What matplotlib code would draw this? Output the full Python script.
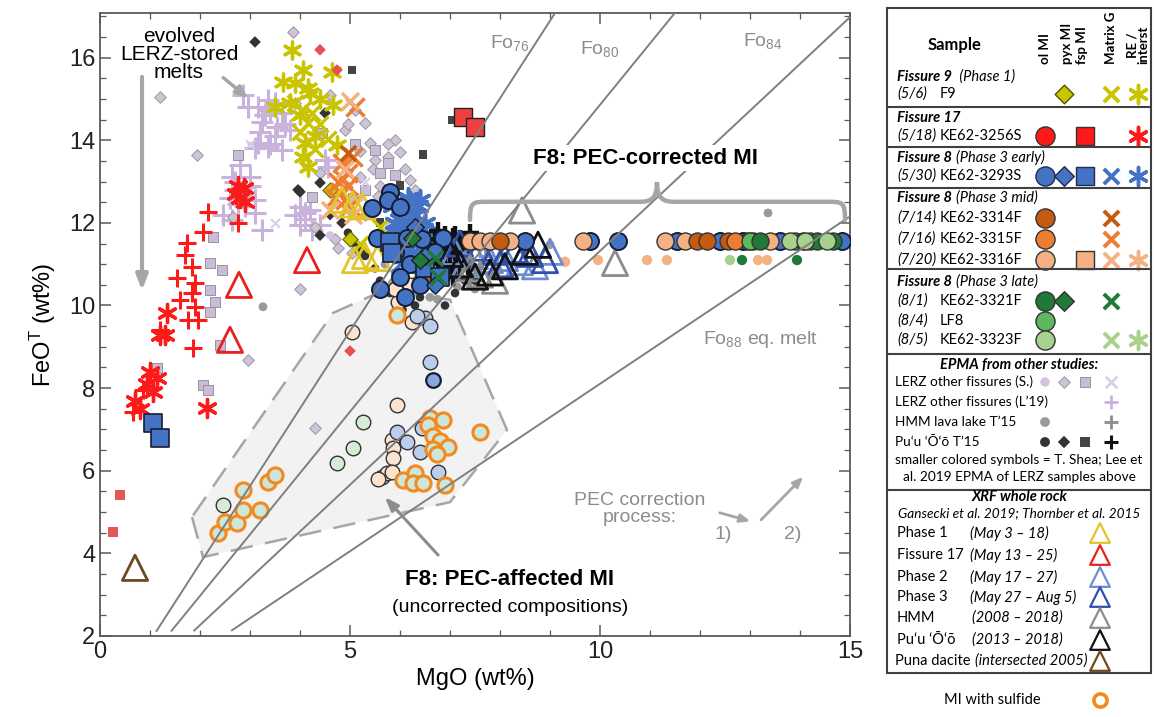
#!/usr/bin/env python3
"""
FeO(T) vs MgO for 2018 LERZ melt inclusions, matrix glasses and whole rocks
"""

import numpy as np
import matplotlib
matplotlib.use('Agg')
import matplotlib.pyplot as plt
from matplotlib.path import Path
from matplotlib.patches import Polygon, PathPatch, Rectangle

W, H = 1154, 717

# ---------------------------------------------------------------- data (MgO, FeOT)
# EPMA from other studies
lerz_l19_plus = [(3.16, 14.81), (3.36, 14.98), (3.64, 14.66), (3.54, 14.32), (3.16, 13.94),
                 (3.10, 13.82), (3.36, 13.84), (2.64, 13.11), (2.90, 12.87), (2.84, 12.63),
                 (3.10, 12.56), (3.10, 12.24), (2.70, 12.80), (4.00, 12.39), (4.10, 12.24),
                 (4.50, 13.53), (4.56, 13.36), (3.24, 14.45), (3.80, 14.25), (2.96, 14.81),
                 (4.00, 11.95), (4.24, 11.83), (2.64, 12.07), (3.24, 11.83), (2.80, 13.41),
                 (3.64, 13.77), (3.40, 14.74), (2.75, 12.45), (3.00, 13.10), (3.30, 14.60),
                 (3.50, 14.90), (3.20, 14.20), (3.70, 14.40), (2.70, 13.00), (2.90, 12.40),
                 (2.60, 12.60), (3.00, 12.90), (4.10, 12.10), (4.20, 12.30), (3.90, 12.20),
                 (3.40, 13.90), (3.50, 14.10), (2.85, 15.10), (4.40, 11.95), (2.45, 12.20)]
lerz_s_diamond = [(1.20, 15.05), (3.86, 16.62), (1.94, 13.65), (5.30, 14.42), (5.90, 14.01),
                  (6.00, 13.72), (5.40, 13.94), (5.76, 13.60), (4.30, 11.90), (4.76, 11.39),
                  (5.04, 11.27), (4.30, 7.04), (2.96, 8.68), (4.60, 15.10), (5.10, 14.74),
                  (4.90, 14.25), (5.50, 13.53), (6.20, 13.04), (5.70, 12.44), (3.90, 14.90),
                  (5.60, 12.90), (6.00, 12.60), (5.30, 12.20), (4.40, 13.20), (6.40, 11.80),
                  (6.20, 12.00), (2.66, 12.15), (4.00, 10.40), (5.20, 13.10), (5.45, 13.30),
                  (5.75, 13.90), (6.10, 13.30), (5.20, 13.75), (4.95, 14.40), (6.30, 12.80),
                  (5.00, 12.30), (4.70, 11.60), (5.80, 11.90), (5.55, 12.65)]
lerz_s_square = [(2.76, 13.65), (2.26, 11.66), (2.20, 11.03), (2.44, 10.86), (2.20, 10.38),
                 (2.30, 10.09), (2.20, 9.84), (2.40, 9.05), (2.06, 8.08), (2.16, 7.96),
                 (1.14, 8.49), (4.44, 14.18), (5.76, 13.45), (4.24, 12.63), (5.50, 13.77),
                 (5.90, 13.16), (5.30, 12.80), (5.10, 13.90), (5.60, 13.20), (5.05, 12.60)]
lerz_s_circle = [(5.50, 12.30), (5.80, 12.00), (6.10, 11.80), (4.60, 11.70), (5.20, 12.60)]
lerz_s_x = [(3.00, 13.90), (3.50, 12.00), (4.90, 12.90), (5.30, 13.00), (7.00, 10.60)]
hmm_circle = [(6.30, 11.10), (6.50, 10.90), (6.10, 10.60), (6.80, 10.50), (7.20, 10.70),
              (7.50, 10.40), (6.60, 10.20), (5.90, 10.80), (6.00, 11.30), (7.00, 11.60),
              (9.00, 11.47), (13.36, 12.24), (3.26, 9.97), (5.70, 11.00), (6.90, 10.90),
              (7.30, 11.40), (6.20, 10.35), (7.80, 11.60), (6.10, 10.40), (6.45, 10.60),
              (7.15, 10.45), (5.85, 10.55), (6.75, 10.15)]
hmm_plus = [(6.80, 10.60), (7.10, 10.80), (7.40, 10.60), (7.60, 10.90), (6.50, 10.70),
            (7.90, 10.80), (7.70, 11.20)]
puu_circle = [(4.96, 11.76), (5.10, 11.50), (5.60, 10.60), (5.80, 10.30), (6.00, 10.50),
              (6.20, 10.90), (6.40, 10.20), (6.70, 10.40), (6.90, 10.00), (7.10, 10.30),
              (5.50, 10.90), (5.90, 11.10), (6.60, 10.80), (7.30, 10.60), (5.30, 11.20),
              (6.05, 9.90), (6.30, 10.00), (7.50, 10.60)]
puu_diamond = [(3.10, 16.38), (4.50, 14.66), (4.40, 12.97), (4.00, 12.75), (4.84, 12.00),
               (3.96, 12.80), (4.40, 11.70), (5.20, 11.30), (6.10, 11.30), (4.60, 12.20)]
puu_square = [(5.04, 15.70), (7.04, 14.49), (6.46, 13.65), (5.60, 12.00), (6.00, 12.90)]
puu_plus = [(6.70, 11.60), (6.80, 11.40), (6.90, 11.20), (7.00, 11.50), (7.10, 11.30),
            (7.20, 11.60), (6.90, 11.70), (7.30, 11.10), (7.00, 11.00), (6.80, 11.00),
            (7.20, 10.90), (7.40, 11.40), (6.60, 11.30), (7.10, 11.70), (6.95, 10.80),
            (7.40, 11.75), (6.75, 11.80), (6.85, 11.55), (7.05, 11.65), (7.15, 11.45),
            (6.75, 11.25), (7.25, 11.25), (7.35, 10.95), (6.90, 10.95), (7.05, 10.70)]

# this study - Fissure 9 (F9)
f9_re = [(3.84, 16.19), (4.06, 15.70), (3.66, 15.41), (3.90, 15.39), (4.16, 15.27),
         (4.20, 15.15), (4.64, 15.66), (4.66, 14.86), (3.50, 14.81), (4.10, 13.94),
         (4.06, 13.60), (4.74, 13.89), (4.16, 13.36), (4.00, 14.60), (4.30, 14.10),
         (3.80, 14.90), (4.40, 15.00)]
f9_mat = [(4.04, 14.74), (4.24, 14.66), (3.90, 14.90), (4.16, 14.42), (4.00, 14.20),
          (4.56, 14.03), (4.40, 14.40), (4.30, 13.80), (5.60, 11.90), (5.20, 11.50)]
f9_pyx = [(4.60, 12.80), (5.00, 11.60)]

# Fissure 17 (KE62-3256S)
f17_re = [(2.80, 12.60), (2.88, 12.85), (2.72, 12.70), (2.90, 12.50), (2.76, 12.90),
          (1.34, 9.82), (1.30, 9.29), (1.20, 9.29), (1.06, 7.90), (0.94, 8.10),
          (1.14, 8.25), (1.00, 8.40), (0.80, 7.50), (0.70, 7.70), (2.14, 7.52)]
f17_fsp = [(7.26, 14.57), (7.50, 14.32)]
f17_l19_plus = [(2.16, 12.27), (2.06, 11.78), (1.74, 11.52), (1.84, 10.93), (1.54, 10.67),
                (1.90, 10.55), (1.84, 10.31), (1.90, 9.97), (2.76, 12.00), (1.86, 8.97),
                (0.86, 7.96), (0.66, 7.42), (1.70, 11.22), (1.60, 10.14), (1.96, 9.65),
                (1.76, 9.65), (1.20, 9.40)]
f17_small_sq = [(0.40, 5.41), (0.26, 4.52)]
f17_small_dia = [(4.40, 16.19), (4.74, 15.70), (5.00, 8.90)]

# Fissure 8 phase 3 early (KE62-3293S)
e_ol = [(5.80, 12.75), (5.76, 12.55), (6.00, 12.39), (5.44, 12.36), (5.54, 11.64),
        (6.44, 11.60), (6.86, 11.64), (6.14, 11.64), (9.80, 11.55), (10.36, 11.55),
        (11.54, 11.55), (12.40, 11.55), (12.86, 11.55), (13.60, 11.55), (14.84, 11.55),
        (8.50, 11.55), (6.20, 11.00), (6.00, 10.70), (6.40, 10.50), (6.70, 11.30),
        (5.90, 11.30), (6.10, 10.20), (5.60, 10.40)]
e_fsp = [(1.06, 7.16), (1.20, 6.80), (5.80, 11.54), (5.84, 11.27), (6.50, 10.90), (6.80, 10.70)]
e_pyx = [(6.50, 11.20), (6.30, 11.90), (6.70, 10.50)]
e_re = [(6.00, 12.30), (6.10, 12.00), (6.20, 11.80), (6.30, 12.20), (6.00, 11.50),
        (6.40, 11.40), (6.10, 11.20), (5.90, 12.00), (6.50, 12.00), (6.35, 11.65),
        (6.20, 12.50), (5.95, 11.75), (6.60, 11.30), (6.25, 11.05), (5.85, 12.40),
        (6.15, 12.60), (6.35, 12.40), (6.05, 11.85), (6.45, 11.85), (6.55, 11.50),
        (6.25, 11.30), (5.95, 11.95), (6.40, 12.55)]
e_mat = [(6.10, 12.40), (6.30, 11.50), (6.00, 11.00), (6.50, 11.70), (6.45, 10.95),
         (6.20, 11.40), (5.90, 11.60)]

# Fissure 8 phase 3 mid
m14_ol = [(8.00, 11.55), (11.94, 11.55), (12.14, 11.55), (12.55, 11.55), (12.96, 11.55)]
m14_mat = [(6.55, 10.65), (4.95, 13.70), (6.40, 10.80)]
m16_ol = [(13.06, 11.55), (12.70, 11.55)]
m16_mat = [(5.10, 14.80), (4.84, 13.45), (4.96, 13.20), (4.86, 13.05), (4.80, 12.75),
           (4.90, 12.55), (4.95, 12.90), (5.00, 12.40), (4.70, 12.60), (5.05, 13.60),
           (4.75, 13.00)]
m20_ol = [(7.40, 11.55), (7.60, 11.55), (7.80, 11.55), (8.20, 11.55), (9.66, 11.55),
          (11.70, 11.55), (13.40, 11.55), (11.30, 11.55)]
m20_mat = [(5.00, 14.95), (4.90, 13.30), (5.05, 12.20), (4.60, 12.30)]

# Fissure 8 phase 3 late
l1_ol = [(13.20, 11.55), (14.06, 11.55), (14.34, 11.55), (14.66, 11.55)]
l1_pyx = [(6.24, 11.64), (6.40, 11.10)]
l1_mat = [(6.70, 11.15), (6.76, 10.70)]
lf8_ol = [(13.00, 11.55), (13.90, 11.55), (14.20, 11.55)]
l5_ol = [(13.80, 11.55), (14.10, 11.55), (14.54, 11.55)]

# smaller colored symbols (T. Shea)
shea_lor = [(9.30, 11.06), (9.96, 11.10), (10.94, 11.10), (11.34, 11.10), (13.16, 11.10),
            (13.34, 11.10)]
shea_lgr = [(12.60, 11.10)]
shea_dgr = [(12.84, 11.10), (13.94, 11.10)]

# PEC-affected (uncorrected) MI
unc_peach = [(5.04, 9.36), (5.96, 10.09), (6.24, 9.60), (5.94, 7.59), (5.84, 6.75),
             (5.86, 6.55), (5.86, 6.30), (5.64, 5.85), (5.74, 5.95), (5.84, 5.97),
             (5.55, 5.80), (6.20, 10.50), (5.90, 10.40)]
unc_blue = [(6.50, 9.70), (6.34, 9.75), (6.60, 8.63), (5.94, 6.94), (6.14, 6.70),
            (6.44, 7.04), (6.40, 6.45), (6.76, 5.97), (6.60, 9.50)]
unc_blue_dark = [(6.66, 8.20)]
unc_green = [(5.26, 7.18), (5.06, 6.55), (4.74, 6.19), (2.46, 5.17)]
sulfide = [(2.36, 4.49), (2.50, 4.76), (2.74, 4.74), (2.86, 5.05), (2.86, 5.54),
           (3.20, 5.05), (3.36, 5.73), (3.50, 5.90), (6.60, 7.28), (6.55, 7.10),
           (6.86, 7.24), (6.66, 6.83), (6.80, 6.71), (6.96, 6.57), (6.66, 6.52),
           (6.74, 6.40), (6.06, 5.78), (6.30, 5.95), (6.26, 5.71), (6.46, 5.71),
           (6.90, 5.66), (7.60, 6.94), (5.94, 9.77)]

# XRF whole rock
xrf_ph1 = [(4.84, 12.56), (5.05, 12.45), (5.25, 12.40), (5.10, 11.10), (5.30, 11.20), (5.55, 11.15)]
xrf_f17 = [(4.14, 11.10), (2.78, 10.50), (2.60, 9.17)]
xrf_ph2 = [(7.10, 11.30), (7.50, 11.20), (7.80, 11.10), (8.10, 11.15), (8.40, 11.05),
           (8.70, 10.95), (7.30, 11.00), (9.00, 11.30)]
xrf_ph3 = [(7.90, 11.30), (8.30, 11.35), (8.60, 11.25), (7.60, 11.40), (8.00, 11.00),
           (8.90, 11.10), (7.20, 11.50)]
xrf_hmm = [(10.30, 11.03), (8.44, 12.30), (7.60, 10.75), (7.90, 10.60), (7.40, 10.90)]
xrf_puu = [(8.76, 11.47), (8.50, 11.30), (7.80, 10.80), (7.50, 10.70), (8.10, 10.95),
           (7.20, 11.00), (7.00, 11.25)]
xrf_puna = [(0.70, 3.65)]

# PEC-affected field outline
field_mgo = [1.84, 2.06, 7.00, 8.14, 7.00, 5.70, 4.66]
field_feo = [4.88, 3.91, 5.24, 6.99, 10.14, 10.38, 9.82]

# olivine-melt equilibrium lines
fo_values = [76, 80, 84, 88]
kd = 0.30

# ---------------------------------------------------------------- colours
YEL = '#c9c400'
RED = '#ff1a1a'
BLUE = '#4472c4'
DOR = '#c55a11'
ORA = '#ed7d31'
LOR = '#f4b183'
DGR = '#1f7a3a'
GRN = '#5cb85c'
LGR = '#a9d18e'
LAV = '#c9b3dd'
LAVG = '#cdc4d6'
GRY = '#9a9a9a'
DRK = '#333333'
LINE = '#7f7f7f'
ASTER = (6, 2, 0)

plt.rcParams['font.family'] = ['Liberation Sans Narrow', 'Liberation Sans', 'DejaVu Sans']
plt.rcParams['mathtext.fontset'] = 'custom'
plt.rcParams['mathtext.rm'] = 'Liberation Sans'
plt.rcParams['mathtext.it'] = 'Liberation Sans:italic'

fig = plt.figure(figsize=(W / 100, H / 100), dpi=100)
ax = fig.add_axes([100 / W, 81 / H, 750 / W, 623 / H])
ax.set_xlim(0, 15)
ax.set_ylim(2, 17.08)


def pts(data, marker, face, edge='none', s=60, lw=0.8, z=3):
    a = np.array(data)
    if marker in ('x', '+', ASTER):
        ax.scatter(a[:, 0], a[:, 1], marker=marker, c=face, s=s, linewidths=lw, zorder=z)
    else:
        ax.scatter(a[:, 0], a[:, 1], marker=marker, c=face, edgecolors=edge, s=s,
                   linewidths=lw, zorder=z)


# field of PEC-affected MI
ax.add_patch(Polygon(np.column_stack([field_mgo, field_feo]), closed=True,
                     facecolor='#f2f2f2', edgecolor='#a6a6a6', lw=1.8,
                     linestyle=(0, (9, 5)), zorder=0.5))

# EPMA from other studies
pts(lerz_l19_plus, '+', LAV, s=230, lw=2.2, z=2)
pts(lerz_s_diamond, 'D', LAVG, edge='#9c95a5', s=35, lw=0.7, z=2)
pts(lerz_s_square, 's', '#c9bdd6', edge='#9a90a6', s=45, lw=0.7, z=2)
pts(lerz_s_circle, 'o', '#d3c2e2', edge='none', s=35, z=2)
pts(lerz_s_x, 'x', '#d8cce6', s=40, lw=1.5, z=2)
pts(hmm_circle, 'o', GRY, s=40, z=2.5)
pts(hmm_plus, '+', '#8c8c8c', s=110, lw=2.0, z=2.5)
pts(puu_circle, 'o', DRK, edge='none', s=38, z=2.6)
pts(puu_diamond, 'D', DRK, edge='none', s=35, z=2.6)
pts(puu_square, 's', '#444444', edge='none', s=40, z=2.6)
pts(puu_plus, '+', '#111111', s=180, lw=3.2, z=3.2)

# F9
pts(f9_re, ASTER, YEL, s=150, lw=2.4)
pts(f9_mat, 'x', YEL, s=130, lw=2.4)
pts(f9_pyx, 'D', YEL, edge='#666600', s=60)

# Fissure 17
pts(f17_l19_plus, '+', RED, s=170, lw=2.2)
pts(f17_re, ASTER, RED, s=170, lw=2.4)
pts(f17_fsp, 's', '#ef4040', edge='#222222', s=150, lw=1.0)
pts(f17_small_sq, 's', '#e05858', s=45)
pts(f17_small_dia, 'D', '#e85050', s=35)

# Fissure 8 early
pts(e_re, ASTER, BLUE, s=200, lw=2.6, z=3)
pts(e_mat, 'x', BLUE, s=150, lw=2.5, z=3)
pts(e_ol, 'o', BLUE, edge='#141e32', s=150, lw=1.4, z=4)
pts(e_fsp, 's', BLUE, edge='#141e32', s=150, lw=1.2, z=4)
pts(e_pyx, 'D', BLUE, edge='#141e32', s=80, lw=1.0, z=4)

# Fissure 8 mid / late
pts(m16_mat, 'x', ORA, s=170, lw=2.5)
pts(m20_mat, 'x', LOR, s=150, lw=2.5)
pts(m14_mat, 'x', DOR, s=120, lw=2.5)
pts(m20_ol, 'o', LOR, edge='#333333', s=150, lw=1.0, z=4)
pts(m14_ol, 'o', DOR, edge='#333333', s=150, lw=1.0, z=4)
pts(m16_ol, 'o', ORA, edge='#333333', s=150, lw=1.0, z=4)
pts(lf8_ol, 'o', GRN, edge='#333333', s=150, lw=1.0, z=4.1)
pts(l1_ol, 'o', DGR, edge='#333333', s=150, lw=1.0, z=4.1)
pts(l5_ol, 'o', LGR, edge='#333333', s=150, lw=1.0, z=4.2)
pts(l1_pyx, 'D', DGR, edge='#222222', s=80, lw=1.0, z=4)
pts(l1_mat, 'x', DGR, s=120, lw=2.5, z=4)

# T. Shea smaller colored symbols
pts(shea_lor, 'o', LOR, s=55, z=3)
pts(shea_lgr, 'o', LGR, s=55, z=3)
pts(shea_dgr, 'o', DGR, s=55, z=3)

# PEC-affected MI
pts(unc_peach, 'o', '#fbe3cf', edge='#333333', s=110, lw=1.0, z=3)
pts(unc_blue, 'o', '#bccdec', edge='#333333', s=110, lw=1.0, z=3)
pts(unc_blue_dark, 'o', '#8aa6da', edge='#141e32', s=110, lw=1.6, z=3)
pts(unc_green, 'o', '#d5ecd7', edge='#333333', s=110, lw=1.0, z=3)
pts(sulfide, 'o', '#cde6dc', edge='#f28a1e', s=120, lw=2.2, z=3.1)

# XRF whole rock
pts(xrf_ph1, '^', 'none', edge='#e1c52a', s=330, lw=2.0, z=3.5)
pts(xrf_f17, '^', 'none', edge='#e8201f', s=330, lw=2.0, z=3.5)
pts(xrf_ph2, '^', 'none', edge='#6d8dd0', s=330, lw=2.0, z=3.5)
pts(xrf_ph3, '^', 'none', edge='#2f4fab', s=330, lw=2.0, z=3.5)
pts(xrf_hmm, '^', 'none', edge='#8c8c8c', s=330, lw=2.0, z=3.5)
pts(xrf_puu, '^', 'none', edge='#111111', s=330, lw=2.0, z=3.5)
pts(xrf_puna, '^', 'none', edge='#6b4a1f', s=330, lw=2.0, z=3.5)

# olivine-equilibrium lines (wt% FeO/MgO = molar Fe/Mg * 71.85/40.30)
mgo = np.linspace(0, 15, 200)
for fo in fo_values:
    slope = (100 - fo) / fo / kd * 71.85 / 40.30
    feo = slope * mgo
    keep = feo >= 2.1
    ax.plot(mgo[keep], feo[keep], color=LINE, lw=1.4, zorder=5)

ax.text(8.2, 16.35, 'Fo$_{76}$', color='#8c8c8c', fontsize=14, ha='center', va='center')
ax.text(10.0, 16.2, 'Fo$_{80}$', color='#8c8c8c', fontsize=14, ha='center', va='center')
ax.text(13.25, 16.4, 'Fo$_{84}$', color='#8c8c8c', fontsize=14, ha='center', va='center')
ax.text(13.22, 9.17, 'Fo$_{88}$ eq. melt', color='#8c8c8c', fontsize=14, ha='center',
        va='center')

# annotations
ax.text(1.58, 16.07, 'evolved\nLERZ-stored\nmelts', fontsize=15, ha='center', va='center',
        linespacing=0.95, zorder=6)
ax.annotate('', xy=(0.84, 10.3), xytext=(0.84, 15.6),
            arrowprops=dict(arrowstyle='-|>,head_width=0.35,head_length=0.9',
                            color='#a6a6a6', lw=3), zorder=6)
ax.annotate('', xy=(3.0, 14.98), xytext=(2.42, 15.56),
            arrowprops=dict(arrowstyle='-|>,head_width=0.3,head_length=0.7',
                            color='#a6a6a6', lw=2.5), zorder=6)

ax.text(10.9, 13.57, 'F8: PEC-corrected MI', fontsize=16, fontweight='bold', ha='center',
        va='center', zorder=6,
        bbox=dict(boxstyle='square,pad=0.1', facecolor='white', edgecolor='none'))

# curly brace over the corrected MI
bx0, bx1, bxm = 7.4, 14.9, 11.14
by_end, by_bar, by_tip = 12.07, 12.51, 12.99
verts = [(bx0, by_end), (bx0, by_bar), (bx0 + 0.05, by_bar), (bx0 + 0.35, by_bar),
         (bxm - 0.35, by_bar),
         (bxm - 0.1, by_bar), (bxm, by_bar + 0.1), (bxm, by_tip),
         (bxm, by_bar + 0.1), (bxm + 0.1, by_bar), (bxm + 0.35, by_bar),
         (bx1 - 0.35, by_bar),
         (bx1 - 0.05, by_bar), (bx1, by_bar), (bx1, by_end)]
codes = [Path.MOVETO, Path.CURVE4, Path.CURVE4, Path.CURVE4, Path.LINETO,
         Path.CURVE4, Path.CURVE4, Path.CURVE4,
         Path.CURVE4, Path.CURVE4, Path.CURVE4, Path.LINETO,
         Path.CURVE4, Path.CURVE4, Path.CURVE4]
ax.add_patch(PathPatch(Path(verts, codes), facecolor='none', edgecolor='#a6a6a6', lw=3.2,
                       capstyle='round', zorder=5.5))

ax.text(8.2, 3.36, 'F8: PEC-affected MI', fontsize=16, fontweight='bold', ha='center',
        va='center', zorder=6)
ax.text(8.2, 2.68, '(uncorrected compositions)', fontsize=14, ha='center', va='center',
        zorder=6)
ax.annotate('', xy=(5.66, 5.41), xytext=(6.8, 3.91),
            arrowprops=dict(arrowstyle='-|>,head_width=0.3,head_length=0.8',
                            color='#8c8c8c', lw=2.2), zorder=6)

ax.text(10.8, 5.07, 'PEC correction\nprocess:', fontsize=14, color='#8c8c8c', ha='center',
        va='center', linespacing=1.05)
ax.text(12.46, 4.45, '1)', fontsize=14, color='#8c8c8c', ha='center', va='center')
ax.text(13.86, 4.45, '2)', fontsize=14, color='#8c8c8c', ha='center', va='center')
ax.annotate('', xy=(13.06, 4.76), xytext=(12.34, 5.0),
            arrowprops=dict(arrowstyle='-|>,head_width=0.25,head_length=0.6',
                            color='#a6a6a6', lw=2))
ax.annotate('', xy=(14.1, 5.9), xytext=(13.18, 4.76),
            arrowprops=dict(arrowstyle='-|>,head_width=0.25,head_length=0.6',
                            color='#a6a6a6', lw=2))

# axes styling
ax.set_xticks([0, 5, 10, 15])
ax.set_xticks(np.arange(0, 16, 1), minor=True)
ax.set_yticks(np.arange(2, 17, 2))
ax.set_yticks(np.arange(2, 17.01, 0.5), minor=True)
ax.tick_params(which='both', direction='in', top=True, right=True, colors='#595959',
               labelcolor='#222222', labelsize=17)
ax.tick_params(which='major', length=8, width=1.1)
ax.tick_params(which='minor', length=4, width=0.9)
for sp in ax.spines.values():
    sp.set_color('#595959')
    sp.set_linewidth(1.3)
ax.set_xlabel('MgO (wt%)', fontsize=17, labelpad=4)
ax.set_ylabel('FeO$^{\\mathrm{T}}$ (wt%)', fontsize=17, labelpad=8)

# ---------------------------------------------------------------- legend panel
lg = fig.add_axes([880 / W, 0, (W - 880) / W, 1])
lg.set_xlim(880, W)
lg.set_ylim(H, 0)
lg.axis('off')

LF = ['Lato', 'DejaVu Sans']
FS = 10.5
BOX = '#404040'
lg.add_patch(Rectangle((887, 8), 264, 665, facecolor='none', edgecolor=BOX, lw=1.5))
for ysep in [107, 147, 188, 269, 354, 490]:
    lg.plot([887, 1151], [ysep, ysep], color=BOX, lw=1.5)

cx = {'ol': 1045, 'pyx': 1064, 'fsp': 1085, 'mat': 1111, 're': 1138}

lg.text(955, 45, 'Sample', family=LF, fontsize=12, fontweight='bold', ha='center',
        va='center')
for key, lab in [('ol', 'ol MI'), ('pyx', 'pyx MI'), ('fsp', 'fsp MI'), ('mat', 'Matrix G'),
                 ('re', 'RE /\ninterst')]:
    xx = cx[key] + (3 if key in ('pyx',) else 0) + (-3 if key == 'fsp' else 0)
    lg.text(xx, 64, lab, family=LF, fontsize=9.5, fontweight='bold', rotation=90,
            ha='center', va='bottom', linespacing=0.85)


def header(y, bold, rest):
    t = lg.text(897, y, bold, family=LF, fontsize=FS, fontweight='bold', style='italic',
                ha='left', va='center')
    if rest:
        lg.annotate(rest, xy=(1, 0), xycoords=t, xytext=(3, 0), textcoords='offset points',
                    family=LF, fontsize=FS, style='italic', ha='left', va='bottom')


def sample(y, date, name):
    lg.text(897, y, date, family=LF, fontsize=FS, style='italic', ha='left', va='center')
    lg.text(940, y, name, family=LF, fontsize=FS, ha='left', va='center')


def mark(col, y, marker, face, edge='none', s=150, lw=1.0):
    xx = cx[col] if col in cx else col
    if marker in ('x', '+', ASTER):
        lg.scatter([xx], [y], marker=marker, c=face, s=s, linewidths=lw)
    else:
        lg.scatter([xx], [y], marker=marker, c=face, edgecolors=edge, s=s, linewidths=lw)


header(77, 'Fissure 9', ' (Phase 1)')
sample(94, '(5/6)', 'F9')
mark('pyx', 94, 'D', YEL, '#555500', s=90)
mark('mat', 94, 'x', YEL, s=120, lw=2.8)
mark('re', 94, ASTER, YEL, s=170, lw=2.5)

header(118, 'Fissure 17', '')
sample(136, '(5/18)', 'KE62-3256S')
mark('ol', 136, 'o', RED, '#333333', s=190)
mark('fsp', 136, 's', RED, '#333333', s=160)
mark('re', 136, ASTER, RED, s=170, lw=2.5)

header(158, 'Fissure 8', '(Phase 3 early)')
sample(176, '(5/30)', 'KE62-3293S')
mark('ol', 176, 'o', BLUE, '#1f2d4d', s=190)
mark('pyx', 176, 'D', BLUE, '#1f2d4d', s=100)
mark('fsp', 176, 's', BLUE, '#1f2d4d', s=160)
mark('mat', 176, 'x', BLUE, s=120, lw=2.8)
mark('re', 176, ASTER, BLUE, s=170, lw=2.5)

header(198, 'Fissure 8', '(Phase 3 mid)')
sample(218, '(7/14)', 'KE62-3314F')
mark('ol', 218, 'o', DOR, '#333333', s=190)
mark('mat', 218, 'x', DOR, s=120, lw=2.8)
sample(239, '(7/16)', 'KE62-3315F')
mark('ol', 239, 'o', ORA, '#333333', s=190)
mark('mat', 239, 'x', ORA, s=120, lw=2.8)
sample(260, '(7/20)', 'KE62-3316F')
mark('ol', 260, 'o', LOR, '#333333', s=190)
mark('fsp', 260, 's', LOR, '#333333', s=160)
mark('mat', 260, 'x', LOR, s=120, lw=2.8)
mark('re', 260, ASTER, LOR, s=170, lw=2.5)

header(282, 'Fissure 8', '(Phase 3 late)')
sample(301, '(8/1)', 'KE62-3321F')
mark('ol', 301, 'o', DGR, '#333333', s=190)
mark('pyx', 301, 'D', DGR, '#333333', s=100)
mark('mat', 301, 'x', DGR, s=120, lw=2.8)
sample(321, '(8/4)', 'LF8')
mark('ol', 321, 'o', GRN, '#333333', s=190)
sample(340, '(8/5)', 'KE62-3323F')
mark('ol', 340, 'o', LGR, '#333333', s=190)
mark('mat', 340, 'x', LGR, s=120, lw=2.8)
mark('re', 340, ASTER, LGR, s=170, lw=2.5)

lg.text(1019, 365, 'EPMA from other studies:', family=LF, fontsize=FS, fontweight='bold',
        style='italic', ha='center', va='center')
for yy, lab in [(382, 'LERZ other fissures (S.)'), (402, 'LERZ other fissures (L\u201919)'),
                (422, 'HMM lava lake T\u201915'), (442, 'Pu\u2018u \u2018\u014c\u2018\u014d T\u201915')]:
    lg.text(895, yy, lab, family=LF, fontsize=9.8, ha='left', va='center')
mark('ol', 382, 'o', '#d3c2e2', s=45)
mark('pyx', 382, 'D', LAVG, '#9c95a5', s=35, lw=0.7)
mark('fsp', 382, 's', '#c9bdd6', '#9a90a6', s=55, lw=0.7)
mark('mat', 382, 'x', '#d8cce6', s=70, lw=1.8)
mark('mat', 402, '+', LAV, s=110, lw=2.0)
mark('ol', 422, 'o', GRY, s=50)
mark('mat', 422, '+', '#8c8c8c', s=110, lw=2.0)
mark('ol', 442, 'o', DRK, s=50)
mark('pyx', 442, 'D', DRK, s=40)
mark('fsp', 442, 's', '#444444', s=50)
mark('mat', 442, '+', '#111111', s=110, lw=2.2)
lg.text(1019, 460, 'smaller colored symbols = T. Shea; Lee et', family=LF, fontsize=9.8,
        ha='center', va='center')
lg.text(1019, 477, 'al. 2019 EPMA of LERZ samples above', family=LF, fontsize=9.8,
        ha='center', va='center')

lg.text(1020, 497, 'XRF whole rock', family=LF, fontsize=FS, fontweight='bold',
        style='italic', ha='center', va='center')
lg.text(1019, 513, 'Gansecki et al. 2019; Thornber et al. 2015', family=LF, fontsize=9.8,
        style='italic', ha='center', va='center')
xrf_rows = [(533, 'Phase 1', '(May 3 \u2013 18)', 970, '#e1c52a'),
            (555, 'Fissure 17', '(May 13 \u2013 25)', 970, '#e8201f'),
            (577, 'Phase 2', '(May 17 \u2013 27)', 970, '#6d8dd0'),
            (597, 'Phase 3', '(May 27 \u2013 Aug 5)', 970, '#2f4fab'),
            (618, 'HMM', '(2008 \u2013 2018)', 972, '#8c8c8c'),
            (640, 'Pu\u2018u \u2018\u014c\u2018\u014d', '(2013 \u2013 2018)', 972, '#111111')]
for yy, lab, rng, xr, col in xrf_rows:
    lg.text(897, yy, lab, family=LF, fontsize=FS, ha='left', va='center')
    lg.text(xr, yy, rng, family=LF, fontsize=FS, style='italic', ha='left', va='center')
    mark(1100, yy, '^', 'none', col, s=200, lw=1.6)
t = lg.text(895, 661, 'Puna dacite', family=LF, fontsize=FS, ha='left', va='center')
lg.annotate('(intersected 2005)', xy=(1, 0), xycoords=t, xytext=(3, 0),
            textcoords='offset points', family=LF, fontsize=FS, style='italic',
            ha='left', va='bottom')
mark(1100, 661, '^', 'none', '#6b4a1f', s=200, lw=1.6)

lg.text(992, 700, 'MI with sulfide', family=LF, fontsize=FS, ha='center', va='center')
mark(1100, 700, 'o', 'white', '#f28a1e', s=90, lw=2.6)

fig.savefig('out.png', dpi=100)
